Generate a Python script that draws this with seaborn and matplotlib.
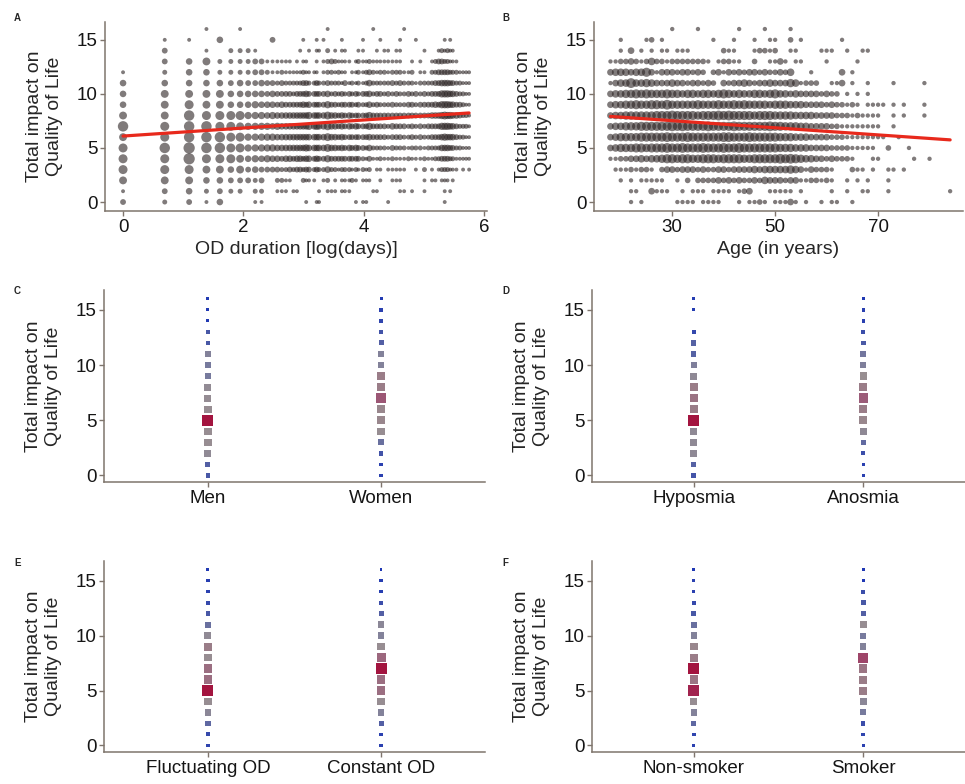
import numpy as np
import pandas as pd
import seaborn as sns
import matplotlib
matplotlib.use("Agg")
import matplotlib.pyplot as plt
from matplotlib.colors import LinearSegmentedColormap

# ---------------- data ----------------
scores = list(range(17))

# Panel A: OD duration (days), one column per duration value
od_days = [1, 2, 3, 4, 5, 6, 7,
           8, 9, 10, 11, 12, 13, 14, 15, 16, 17,
           18, 19, 20, 21, 22, 24, 25, 26, 28, 30,
           32, 34, 36, 38, 40, 43, 45, 48, 50, 54,
           57, 60, 64, 68, 72, 77, 82, 88, 94, 100,
           107, 115, 122, 130, 140, 150, 160, 170, 180, 190,
           200, 210, 220, 230, 240, 255, 270, 285, 300, 315]
# number of participants per (score, duration); one string per score 0..16, base-36 digits
od_rows = [
    "3231400 0110000000 0001001100 0000000101 1000001000 0000000000 0100000000",
    "1342322 0220011101 1000000101 1101110000 0011000001 1010010000 0101000000",
    "6664433 3230022110 0021110012 0101112101 1100100111 0000010110 1110100000",
    "8886646 3433332232 3323323224 2212221212 1201101111 1001020101 2221110101",
    "88d8886 4545443443 4434434335 3333333332 1311211211 1211121122 3332211111",
    "8bdbb88 5555544444 4445444446 4434343433 2422221322 2122212222 4443322111",
    "68bbb88 5555544444 4444444446 4434333333 3433332333 2232322333 4544432211",
    "b8bb886 5555454444 4444545446 4434343433 3533332433 3232323333 5554432221",
    "66b8888 5554544444 4444544446 4434343333 3533333333 3333333444 5655443221",
    "4686644 4544434333 3343433335 3323333232 2423222322 2332333343 5554433211",
    "4666644 4443433332 3334333334 2323232323 3423323232 2323232333 5554432211",
    "4444434 3343323222 2233223223 2221312121 2422222323 2221222233 4443322111",
    "1244222 2332112111 1121111012 2121101121 2321221222 1120110223 3332221111",
    "0346222 2331111110 1011001012 3211110121 1211111111 0010100123 3221110000",
    "0301022 2100000000 0100101102 0101100011 0001011011 0000010001 2121100000",
    "0110400 0000300000 0010001010 0001000001 0000100001 0001000000 0101000000",
    "0001001 0000000000 0000000001 0000000000 0010000000 1000000000 0000000000",
]

# Panel B: age in years 18..85
age_years = list(range(18, 86))
age_rows = [
    "0000101000 0001111011 1100010112 1011131010 0101100100 0000000000 00000000",
    "0000110031 1100101110 1111012300 0111110100 0001001001 1000100000 00000010",
    "0010101111 1001020222 2323232232 4333233112 2121001010 1000100000 00000000",
    "0111212210 2332333232 2332333343 4444454313 2221000211 0100110100 00000000",
    "1122334344 5665665566 6566665566 6667676544 3323222100 0110000001 00100000",
    "3455566566 6766766676 6676676666 6665554443 3332222111 1100200010 00000000",
    "3455556666 6766676666 6677666766 6665554443 3332221111 1111001000 00000000",
    "3445556666 6676766667 6666766666 6766555443 3332211111 1110010000 00000000",
    "3445555556 6676666566 6767666656 6655554444 3333222121 1110010100 01000000",
    "3445565566 5755555655 5655656555 5455544433 3323221210 1111010100 01000000",
    "3445565655 5655455455 4565454455 4564434333 3232201010 1000000000 00000000",
    "1344744543 3343323323 2032334323 3433354122 2001130100 1000010000 01000000",
    "3444344631 3332332320 2313232332 3223240001 0000030100 0000000000 00000000",
    "1122321242 2122222221 0122110020 0113101100 0010000010 0000000000 00000000",
    "0010301010 1101110000 0021100012 2120011000 0111001001 1000000000 00000000",
    "0010000120 1000000000 1000100010 0110020100 0000010000 0000000000 00000000",
    "0000000000 0010000100 0000010000 1000010000 0000000000 0000000000 00000000",
]

# Panels C-F: participants per score 0..16 in each group
sex_labels = ["Men", "Women"]
men_n = [22, 26, 56, 62, 62, 150, 62, 60, 58, 40, 40, 45, 22, 22, 3, 3, 4]
women_n = [8, 8, 19, 35, 62, 69, 69, 114, 76, 76, 45, 45, 26, 19, 10, 8, 4]

smell_labels = ["Hyposmia", "Anosmia"]
hyposmia_n = [16, 22, 45, 45, 45, 122, 62, 69, 62, 45, 35, 22, 22, 10, 0, 4, 4]
anosmia_n = [6, 6, 13, 26, 45, 56, 62, 90, 62, 51, 35, 31, 19, 13, 6, 6, 2]

course_labels = ["Fluctuating OD", "Constant OD"]
fluctuating_n = [10, 13, 31, 51, 62, 150, 90, 90, 62, 76, 56, 35, 22, 13, 8, 6, 4]
constant_n = [8, 8, 26, 45, 62, 90, 90, 150, 98, 62, 45, 51, 26, 16, 6, 6, 2]

smoke_labels = ["Non-smoker", "Smoker"]
nonsmoker_n = [8, 10, 31, 45, 62, 140, 83, 150, 76, 69, 45, 35, 22, 13, 8, 8, 2]
smoker_n = [8, 10, 16, 40, 51, 76, 76, 83, 122, 45, 40, 62, 26, 22, 16, 2, 2]

# ---------------- style ----------------
sns.set_style("ticks")
plt.rcParams["font.family"] = ["Liberation Sans", "DejaVu Sans"]

SPINE = "#7f756c"
DOT = "#2b2323"
LINE = "#e8291c"
YLABEL = "Total impact on\nQuality of Life"
qol_cmap = LinearSegmentedColormap.from_list(
    "qol", [(0.0, "#1b35b5"), (0.15, "#4a59a6"), (0.3, "#84839a"), (0.42, "#988e91"),
            (0.55, "#9b7584"), (0.75, "#9c5a78"), (0.9, "#a02a55"), (1.0, "#a3143f")])


def count_table(xvals, rows):
    recs = []
    for score, row in zip(scores, rows):
        digits = row.replace(" ", "")
        assert len(digits) == len(xvals), (score, len(digits))
        for x, ch in zip(xvals, digits):
            n = int(ch, 36)
            if n:
                recs.append((x, score, n))
    return pd.DataFrame(recs, columns=["x", "score", "n"])


def group_table(labels, first, second):
    return pd.DataFrame({
        "group": [labels[0]] * len(scores) + [labels[1]] * len(scores),
        "score": scores + scores,
        "n": list(first) + list(second),
    }).query("n > 0")


def style_axes(ax):
    sns.despine(ax=ax)
    for side in ["left", "bottom"]:
        ax.spines[side].set_color(SPINE)
        ax.spines[side].set_linewidth(1.1)
    ax.tick_params(color=SPINE, labelcolor="#151515", labelsize=13.5,
                   length=3.5, width=1, pad=2)
    ax.set_yticks([0, 5, 10, 15])
    ax.set_ylabel(YLABEL, fontsize=14, labelpad=10)


def bubble_panel(ax, df, biggest):
    nmax = df["n"].max()
    sns.scatterplot(data=df, x="x", y="score", size="n", sizes=(3, biggest),
                    size_norm=(0, nmax), color=DOT, alpha=0.6, linewidth=0,
                    legend=False, ax=ax)
    expanded = df.loc[df.index.repeat(df["n"])]
    sns.regplot(data=expanded, x="x", y="score", scatter=False, ci=None, truncate=True,
                line_kws={"color": LINE, "lw": 2.3}, ax=ax)
    style_axes(ax)


def square_panel(ax, df):
    nmax = df["n"].max()
    sns.scatterplot(data=df, x="group", y="score", size="n", hue="n",
                    sizes=(3, 62), size_norm=(0, nmax), hue_norm=(0, nmax),
                    palette=qol_cmap, marker="s", linewidth=0, legend=False, ax=ax)
    style_axes(ax)
    ax.set_xlim(-0.6, 1.6)
    ax.set_ylim(-0.6, 16.8)
    ax.set_xlabel("")


W, H = 965, 784
fig = plt.figure(figsize=(W / 100, H / 100), dpi=100)


def add_axes(x0, y0, x1, y1):
    return fig.add_axes([x0 / W, 1 - y1 / H, (x1 - x0) / W, (y1 - y0) / H])


# A
ax_a = add_axes(105, 22, 487, 211)
df_a = count_table(od_days, od_rows)
df_a["x"] = np.log(df_a["x"])
bubble_panel(ax_a, df_a, 66)
ax_a.set_xlim(-0.3, 6.05)
ax_a.set_ylim(-0.83, 16.65)
ax_a.set_xticks([0, 2, 4, 6])
ax_a.set_xlabel("OD duration [log(days)]", fontsize=14, labelpad=4)

# B
ax_b = add_axes(594, 22, 963, 211)
df_b = count_table(age_years, age_rows)
bubble_panel(ax_b, df_b, 50)
ax_b.set_xlim(14.8, 86.5)
ax_b.set_ylim(-0.83, 16.65)
ax_b.set_xticks([30, 50, 70])
ax_b.set_xlabel("Age (in years)", fontsize=14, labelpad=4)

# C-F
square_panel(add_axes(104, 290, 485, 482), group_table(sex_labels, men_n, women_n))
square_panel(add_axes(592, 290, 965, 482), group_table(smell_labels, hyposmia_n, anosmia_n))
square_panel(add_axes(104, 561, 485, 752), group_table(course_labels, fluctuating_n, constant_n))
square_panel(add_axes(592, 561, 965, 752), group_table(smoke_labels, nonsmoker_n, smoker_n))

for letter, (px, py) in zip("ABCDEF", [(14, 18), (502, 18), (14, 291), (502, 291),
                                      (14, 563), (502, 563)]):
    fig.text(px / W, 1 - py / H, letter, fontsize=7, fontweight="bold", va="center")

fig.savefig("out.png", dpi=100)
